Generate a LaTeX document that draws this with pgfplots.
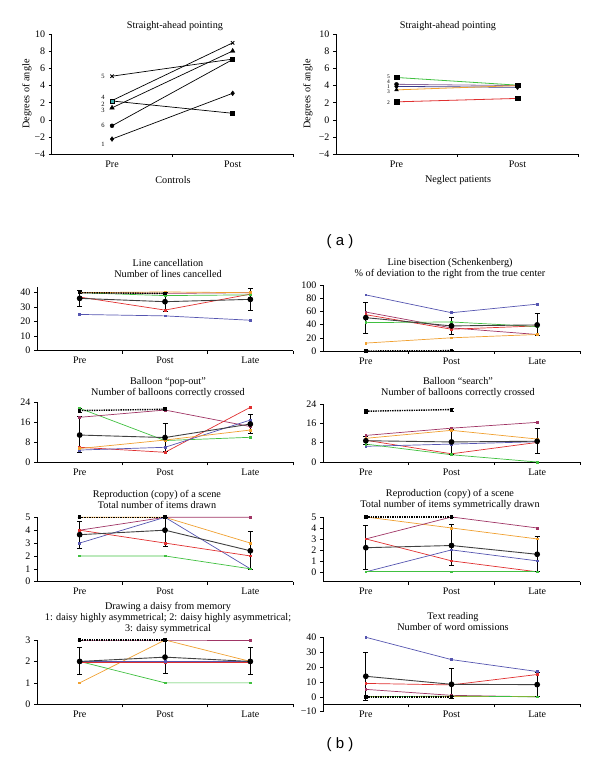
\documentclass[border=0pt]{standalone}
\usepackage{pgfplots}
\pgfplotsset{compat=1.18}
\usepackage{fontspec}
\setmainfont{Liberation Serif}
\setsansfont{Liberation Sans}
\definecolor{cblue}{HTML}{5555B0}
\definecolor{cred}{HTML}{E03030}
\definecolor{cgreen}{HTML}{40C040}
\definecolor{corange}{HTML}{F0A030}
\definecolor{cmaroon}{HTML}{A03565}
\definecolor{cgray}{HTML}{404040}
\definecolor{ccyan}{HTML}{40B0B0}
\definecolor{cpurple}{HTML}{8E6A9E}
\definecolor{cnavy}{HTML}{3A3A8A}
\pgfplotsset{
  panel/.style={scale only axis, anchor=south west, axis lines=left,
    axis line style={-, line width=0.6pt}, tick align=outside,
    tick style={black, line width=0.5pt}, major tick length=3pt, minor tick length=3pt,
    xmin=0, xmax=3, xtick={0.5,1.5,2.5}, xticklabels={Pre,Post,Late},
    minor xtick={1,2,3}, major x tick style={draw=none},
    minor x tick style={black, line width=0.5pt},
    tick label style={font=\fontsize{10}{11}\selectfont},
    /pgf/number format/assume math mode=true, clip=false},
  pat/.style={line width=0.7pt, mark=square*, mark size=0.9pt, mark options={solid}},
  mean/.style={cgray, line width=0.9pt, mark=*, mark size=2.4pt, mark options={black},
    error bars/.cd, y dir=both, y explicit, error bar style={black, line width=0.8pt},
    error mark options={rotate=90, mark size=2.5pt, line width=0.8pt, black}},
  ctrl/.style={black, densely dotted, line width=1.4pt, mark=square*, mark size=1.1pt, mark options={solid},
    error bars/.cd, y dir=both, y explicit, error bar style={solid, black, line width=0.7pt},
    error mark options={rotate=90, mark size=2pt, line width=0.7pt, black, solid}},
  lineA/.style={black, line width=0.7pt, no marks},
  mk/.style={only marks, black, mark size=2.4pt},
}
\begin{document}
\begin{tikzpicture}[x=1pt,y=1pt]
\useasboundingbox (0pt,0pt) rectangle (600pt,774pt);
\tikzset{ttl/.style={font=\fontsize{10.2}{11}\selectfont, align=center}}
% ---------------- (a) left
\begin{axis}[panel, at={(51.7pt,620pt)}, width=241.3pt, height=119.7pt,
  xmax=2, xtick={0.5,1.5}, xticklabels={Pre,Post}, minor xtick={1,2},
  ymin=-4, ymax=10, ytick={-4,-2,0,2,4,6,8,10}, yticklabels={−4,−2,0,2,4,6,8,10}]
\addplot[lineA] coordinates {(0.5,-2.25) (1.5,3.1)};
\addplot[lineA] coordinates {(0.5,2.2) (1.5,0.76)};
\addplot[lineA] coordinates {(0.5,1.4) (1.5,8.05)};
\addplot[lineA] coordinates {(0.5,2.25) (1.5,9.0)};
\addplot[lineA] coordinates {(0.5,5.1) (1.5,7.1)};
\addplot[lineA] coordinates {(0.5,-0.7) (1.5,7.05)};
\addplot[mk, mark=diamond*] coordinates {(0.5,-2.25) (1.5,3.1)};
\addplot[mk, mark=square*, mark size=2pt] coordinates {(1.5,0.76) (1.5,7.1)};
\addplot[mk, mark=triangle*, mark size=2.6pt] coordinates {(0.5,1.4) (1.5,8.05)};
\addplot[mk, mark=x, mark size=2.4pt, line width=0.9pt] coordinates {(0.5,5.1) (1.5,9.0)};
\addplot[mk, mark=*, mark size=2pt] coordinates {(0.5,-0.7)};
\addplot[mk, mark=square*, mark size=2pt, mark options={fill=ccyan, draw=black}] coordinates {(0.5,2.2)};
\node[font=\fontsize{6.5}{7}\selectfont] at (axis cs:0.5,5.1) [xshift=-9pt] {5};
\node[font=\fontsize{6.5}{7}\selectfont] at (axis cs:0.5,2.6) [xshift=-9pt] {4};
\node[font=\fontsize{6.5}{7}\selectfont] at (axis cs:0.5,1.85) [xshift=-9pt] {2};
\node[font=\fontsize{6.5}{7}\selectfont] at (axis cs:0.5,1.05) [xshift=-9pt] {3};
\node[font=\fontsize{6.5}{7}\selectfont] at (axis cs:0.5,-0.7) [xshift=-9pt] {6};
\node[font=\fontsize{6.5}{7}\selectfont] at (axis cs:0.5,-2.9) [xshift=-9pt] {1};
\end{axis}
% ---------------- (a) right
\begin{axis}[panel, at={(336pt,620pt)}, width=242pt, height=119.7pt,
  xmax=2, xtick={0.5,1.5}, xticklabels={Pre,Post}, minor xtick={1,2},
  ymin=-4, ymax=10, ytick={-4,-2,0,2,4,6,8,10}, yticklabels={−4,−2,0,2,4,6,8,10}]
\addplot[cgreen, line width=0.8pt, no marks] coordinates {(0.5,4.95) (1.5,4.05)};
\addplot[cpurple, line width=0.8pt, no marks] coordinates {(0.5,4.15) (1.5,4.0)};
\addplot[cnavy, line width=0.8pt, no marks] coordinates {(0.5,3.9) (1.5,3.8)};
\addplot[corange, line width=0.8pt, no marks] coordinates {(0.5,3.5) (1.5,4.0)};
\addplot[cred, line width=0.8pt, no marks] coordinates {(0.5,2.1) (1.5,2.5)};
\addplot[mk, mark=square*, mark size=2.2pt] coordinates {(0.5,4.95) (1.5,4.05) (0.5,2.1) (1.5,2.5)};
\addplot[mk, mark=*, mark size=2pt] coordinates {(0.5,4.15)};
\addplot[mk, mark=diamond*, mark size=2.4pt] coordinates {(0.5,3.9) (1.5,3.8)};
\addplot[mk, mark=triangle*, mark size=2.2pt] coordinates {(0.5,3.5)};
\node[font=\fontsize{5.5}{6}\selectfont] at (axis cs:0.5,5.05) [xshift=-8pt] {5};
\node[font=\fontsize{5.5}{6}\selectfont] at (axis cs:0.5,4.4) [xshift=-8pt] {4};
\node[font=\fontsize{5.5}{6}\selectfont] at (axis cs:0.5,3.85) [xshift=-8pt] {1};
\node[font=\fontsize{5.5}{6}\selectfont] at (axis cs:0.5,3.3) [xshift=-8pt] {3};
\node[font=\fontsize{5.5}{6}\selectfont] at (axis cs:0.5,1.95) [xshift=-8pt] {2};
\end{axis}
\node[ttl] at (175pt,748pt) {Straight-ahead pointing};
\node[ttl] at (448pt,748pt) {Straight-ahead pointing};
\node[ttl] at (173pt,594pt) {Controls};
\node[ttl] at (458pt,594pt) {Neglect patients};
\node[ttl, rotate=90] at (27pt,680pt) {Degrees of angle};
\node[ttl, rotate=90] at (308pt,680pt) {Degrees of angle};
\node[font=\sffamily\fontsize{15}{16}\selectfont] at (340pt,532pt) {( a )};
\node[font=\sffamily\fontsize{15}{16}\selectfont] at (340pt,29pt) {( b )};
% ---------------- b1 Line cancellation
\begin{axis}[panel, at={(37pt,423.3pt)}, width=256pt, height=63.8pt, ymin=0, ymax=44, ytick={0,10,20,30,40}]
\addplot[pat, cblue] coordinates {(0.5,25) (1.5,24) (2.5,21)};
\addplot[pat, cred] coordinates {(0.5,37) (1.5,28) (2.5,39)};
\addplot[pat, cgreen] coordinates {(0.5,40) (1.5,38) (2.5,38.5)};
\addplot[pat, cmaroon] coordinates {(0.5,40) (1.5,39.5) (2.5,40)};
\addplot[pat, corange] coordinates {(0.5,40) (1.5,40.5) (2.5,40)};
\addplot[mean] coordinates {(0.5,36.1) += (0,5.7) -= (0,5.3) (1.5,33.8) += (0,6.4) -= (0,6.4) (2.5,35.4) += (0,7.6) -= (0,7.4)};
\addplot[ctrl] coordinates {(0.5,40) +- (0,0.6) (1.5,39.5) +- (0,0.6)};
\end{axis}
\node[ttl] at (168pt,505.5pt) {Line cancellation\\Number of lines cancelled};
% ---------------- b2 Line bisection
\begin{axis}[panel, at={(323pt,423pt)}, width=257pt, height=66pt, ymin=0, ymax=100, ytick={0,20,40,60,80,100}]
\addplot[pat, cblue] coordinates {(0.5,85) (1.5,58) (2.5,71)};
\addplot[pat, cmaroon] coordinates {(0.5,59) (1.5,35) (2.5,25)};
\addplot[pat, cred] coordinates {(0.5,55) (1.5,33) (2.5,38)};
\addplot[pat, cgreen] coordinates {(0.5,43) (1.5,44) (2.5,37)};
\addplot[pat, corange] coordinates {(0.5,12) (1.5,20) (2.5,25)};
\addplot[mean] coordinates {(0.5,50.5) += (0,23.2) -= (0,23.7) (1.5,38) += (0,13) -= (0,12.2) (2.5,39.5) += (0,18) -= (0,15.5)};
\addplot[ctrl] coordinates {(0.5,0) +- (0,1) (1.5,0.5) +- (0,1)};
\end{axis}
\node[ttl] at (450pt,505pt) {Line bisection (Schenkenberg)\\\% of deviation to the right from the true center};
% ---------------- b3 Balloon pop-out
\begin{axis}[panel, at={(37pt,311.7pt)}, width=256pt, height=60pt, ymin=0, ymax=24, ytick={0,8,16,24}]
\addplot[pat, cgreen] coordinates {(0.5,21.6) (1.5,8.7) (2.5,10)};
\addplot[pat, cmaroon] coordinates {(0.5,18) (1.5,20.9) (2.5,14.3)};
\addplot[pat, cred] coordinates {(0.5,6) (1.5,4) (2.5,22)};
\addplot[pat, cblue] coordinates {(0.5,4.9) (1.5,6) (2.5,16.9)};
\addplot[pat, corange] coordinates {(0.5,5.5) (1.5,8.9) (2.5,12.9)};
\addplot[mean] coordinates {(0.5,10.9) += (0,7.4) -= (0,6.9) (1.5,9.9) += (0,5.6) -= (0,5.7) (2.5,15.3) += (0,4) -= (0,3.6)};
\addplot[ctrl] coordinates {(0.5,20.7) +- (0,0.8) (1.5,21.2) +- (0,0.5)};
\end{axis}
\node[ttl] at (168pt,386pt) {Balloon ``pop-out''\\Number of balloons correctly crossed};
% ---------------- b4 Balloon search
\begin{axis}[panel, at={(323pt,312pt)}, width=257pt, height=58pt, ymin=0, ymax=24, ytick={0,8,16,24}]
\addplot[pat, cmaroon] coordinates {(0.5,11) (1.5,14) (2.5,16.4)};
\addplot[pat, corange] coordinates {(0.5,9.8) (1.5,13.1) (2.5,9.5)};
\addplot[pat, cred] coordinates {(0.5,9) (1.5,3.4) (2.5,8.1)};
\addplot[pat, cblue] coordinates {(0.5,6.5) (1.5,7.4) (2.5,8.4)};
\addplot[pat, cgreen] coordinates {(0.5,7.4) (1.5,3) (2.5,0)};
\addplot[mean] coordinates {(0.5,8.8) += (0,1.7) -= (0,1.5) (1.5,8.3) += (0,5.1) -= (0,5.0) (2.5,8.6) += (0,5.1) -= (0,5.2)};
\addplot[ctrl] coordinates {(0.5,21) +- (0,0.7) (1.5,21.7) +- (0,0.7)};
\end{axis}
\node[ttl] at (458pt,386pt) {Balloon ``search''\\Number of balloons correctly crossed};
% ---------------- b5 Copy total
\begin{axis}[panel, at={(37pt,192.3pt)}, width=256pt, height=64.4pt, ymin=0, ymax=5, ytick={0,1,2,3,4,5}]
\addplot[pat, corange] coordinates {(0.5,5) (1.5,5) (2.5,3)};
\addplot[pat, cmaroon] coordinates {(0.5,4) (1.5,5) (2.5,5)};
\addplot[pat, cblue] coordinates {(0.5,3) (1.5,5) (2.5,1)};
\addplot[pat, cred] coordinates {(0.5,4) (1.5,3) (2.5,2)};
\addplot[pat, cgreen] coordinates {(0.5,2) (1.5,2) (2.5,1)};
\addplot[mean] coordinates {(0.5,3.65) += (0,1.05) -= (0,1.05) (1.5,4.0) += (0,1.0) -= (0,1.23) (2.5,2.4) += (0,1.54) -= (0,1.44)};
\addplot[ctrl] coordinates {(0.5,5) +- (0,0) (1.5,5) +- (0,0)};
\end{axis}
\node[ttl] at (157pt,274.5pt) {Reproduction (copy) of a scene\\Total number of items drawn};
% ---------------- b6 Copy symmetric
\begin{axis}[panel, at={(323pt,192.3pt)}, width=257pt, height=64.7pt, ymin=-0.9, ymax=5, ytick={0,1,2,3,4,5}]
\addplot[pat, corange] coordinates {(0.5,5) (1.5,4) (2.5,3)};
\addplot[pat, cmaroon] coordinates {(0.5,3) (1.5,5) (2.5,4)};
\addplot[pat, cred] coordinates {(0.5,3) (1.5,1) (2.5,0)};
\addplot[pat, cblue] coordinates {(0.5,0) (1.5,2) (2.5,1)};
\addplot[pat, cgreen] coordinates {(0.5,0) (1.5,0) (2.5,0)};
\addplot[mean] coordinates {(0.5,2.2) += (0,2.0) -= (0,1.95) (1.5,2.4) += (0,1.9) -= (0,1.85) (2.5,1.6) += (0,1.6) -= (0,1.6)};
\addplot[ctrl] coordinates {(0.5,5) +- (0,0) (1.5,5) +- (0,0)};
\end{axis}
\node[ttl] at (450pt,274.5pt) {Reproduction (copy) of a scene\\Total number of items symmetrically drawn};
% ---------------- b7 Daisy
\begin{axis}[panel, at={(37pt,69.7pt)}, width=256pt, height=64.3pt, ymin=0, ymax=3, ytick={0,1,2,3}]
\addplot[pat, cmaroon] coordinates {(0.5,3) (1.5,3) (2.5,3)};
\addplot[pat, corange] coordinates {(0.5,1) (1.5,3) (2.5,2)};
\addplot[pat, cgreen] coordinates {(0.5,2) (1.5,1) (2.5,1)};
\addplot[pat, cred] coordinates {(0.5,1.95) (1.5,1.95) (2.5,1.95)};
\addplot[pat, cblue] coordinates {(0.5,2) (1.5,2) (2.5,2)};
\addplot[mean] coordinates {(0.5,2) += (0,0.65) -= (0,0.6) (1.5,2.2) += (0,0.8) -= (0,0.75) (2.5,2) += (0,0.65) -= (0,0.6)};
\addplot[ctrl] coordinates {(0.5,3) +- (0,0) (1.5,3) +- (0,0)};
\end{axis}
\node[ttl] at (168pt,155.5pt) {Drawing a daisy from memory\\1: daisy highly asymmetrical; 2: daisy highly asymmetrical;\\3: daisy symmetrical};
% ---------------- b8 Text reading
\begin{axis}[panel, at={(323pt,62.3pt)}, width=257pt, height=74.4pt, ymin=-10, ymax=40,
  ytick={-10,0,10,20,30,40}, yticklabels={−10,0,10,20,30,40}, axis x line shift=-7.4pt]
\addplot[pat, cblue] coordinates {(0.5,40) (1.5,25) (2.5,17)};
\addplot[pat, cred] coordinates {(0.5,9) (1.5,8) (2.5,15)};
\addplot[pat, cmaroon] coordinates {(0.5,5) (1.5,1) (2.5,0)};
\addplot[pat, corange] coordinates {(0.5,0) (1.5,0) (2.5,0)};
\addplot[pat, cgreen] coordinates {(0.5,0) (1.5,0.5) (2.5,0)};
\addplot[mean] coordinates {(0.5,13.8) += (0,16.2) -= (0,16.2) (1.5,8.4) += (0,10.5) -= (0,9.7) (2.5,8.2) += (0,8.5) -= (0,8.2)};
\addplot[ctrl] coordinates {(0.5,0) +- (0,0) (1.5,0) +- (0,0)};
\end{axis}
\node[ttl] at (453pt,152pt) {Text reading\\Number of word omissions};
\end{tikzpicture}
\end{document}
